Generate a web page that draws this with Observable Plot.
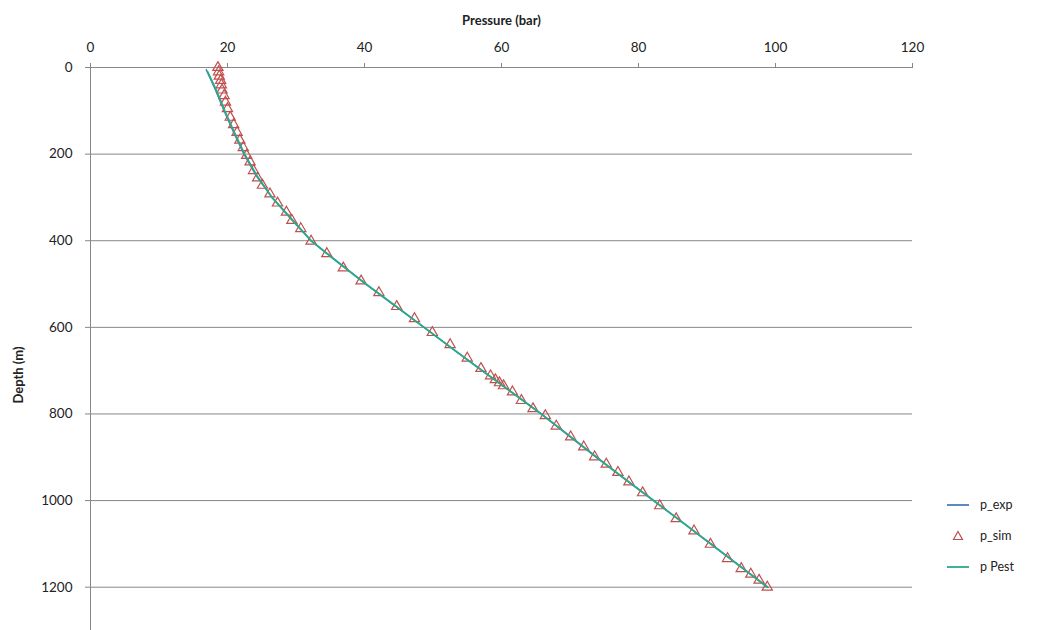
<!DOCTYPE html>
<html>
<head>
<meta charset="utf-8">
<script src="https://cdn.jsdelivr.net/npm/d3@7"></script>
<script src="https://cdn.jsdelivr.net/npm/@observablehq/plot@0.6"></script>
<style>
  html, body { margin: 0; padding: 0; background: #fff; }
  #wrap { position: relative; width: 1039px; height: 630px; font-family: Lato, "Open Sans", sans-serif; }
  #legend { position: absolute; left: 946px; top: 489px; font-size: 12.5px; color: #222; }
  .row { display: flex; align-items: center; height: 31px; }
  .row svg { margin-right: 10px; }
</style>
</head>
<body>
<div id="wrap"></div>
<script>
// Tick values
const xTicks = [0, 20, 40, 60, 80, 100, 120];
const yTicks = [0, 200, 400, 600, 800, 1000, 1200];

// p_sim (triangles)
const simDepth = [0,10,20,30,40,52,65,80,95,115,132,150,168,185,203,218,238,255,272,292,313,334,353,372,401,430,463,493,520,552,580,612,640,671,695,712,721,728,735,749,769,788,804,828,853,876,899,916,935,957,982,1012,1042,1070,1101,1134,1157,1170,1184,1200];
const simPressure = [18.6,18.7,18.8,19.0,19.1,19.2,19.5,19.7,20.0,20.4,20.9,21.4,21.8,22.3,22.8,23.3,23.8,24.4,25.1,26.2,27.3,28.6,29.4,30.7,32.2,34.5,36.9,39.5,42.1,44.7,47.3,49.9,52.5,55.0,57.0,58.4,59.1,59.7,60.3,61.6,62.9,64.6,66.4,68.0,70.1,72.0,73.6,75.3,77.0,78.6,80.6,83.1,85.5,88.1,90.5,93.0,95.0,96.4,97.6,98.8];

// p_exp (line)
const expDepth = [5,50,100,150,200,250,300,350,400,450,500,550,600,650,700,750,800,850,900,950,1000,1050,1100,1150,1200];
const expPressure = [16.9,18.2,19.5,20.9,22.4,24.2,26.5,29.4,32.2,36.2,40.2,44.4,48.7,52.9,57.2,61.5,65.8,69.8,73.8,78.0,82.2,86.4,90.6,94.7,98.9];

// p Pest (line)
const pestDepth = [10,50,100,150,200,250,300,350,400,450,500,550,600,650,700,750,800,850,900,950,1000,1050,1100,1150,1200];
const pestPressure = [17.1,18.3,19.6,21.0,22.5,24.3,26.5,29.3,32.2,36.1,40.2,44.5,48.7,52.9,57.2,61.5,65.8,69.9,73.9,78.0,82.2,86.4,90.5,94.7,98.8];

const sim = simDepth.map((d, i) => ({d, p: simPressure[i]}));
const exp = expDepth.map((d, i) => ({d, p: expPressure[i]}));
const pest = pestDepth.map((d, i) => ({d, p: pestPressure[i]}));

const gridColor = "#878787";
const expColor = "#4a7ebb";
const simColor = "#c0504d";
const pestColor = "#2aa98b";

const chart = Plot.plot({
  width: 1039,
  height: 630,
  marginLeft: 90,
  marginRight: 127,
  marginTop: 67,
  marginBottom: 0,
  style: { fontFamily: "Lato, 'Open Sans', sans-serif", fontSize: "13px", color: "#222", background: "#fff", overflow: "visible" },
  x: { domain: [0, 120] },
  y: { domain: [0, 1300], reverse: true },
  marks: [
    Plot.ruleY(yTicks, { x1: 0, x2: 120, stroke: gridColor, strokeWidth: 1 }),
    Plot.ruleX([0], { y1: 0, y2: 1300, stroke: gridColor, strokeWidth: 1 }),
    Plot.axisX(xTicks, { anchor: "top", tickSize: 5, tickPadding: 11, tickFormat: d => String(d), stroke: gridColor, fill: "#222", label: null, fontSize: 13.5 }),
    Plot.axisY(yTicks, { anchor: "left", tickSize: 5, tickPadding: 13, tickFormat: d => String(d), stroke: gridColor, fill: "#222", label: null, fontSize: 13.5 }),
    Plot.text(["Pressure (bar)"], { frameAnchor: "top", dy: -52, fontWeight: "bold", fontSize: 13, fill: "#222" }),
    Plot.text(["Depth (m)"], { frameAnchor: "left", textAnchor: "middle", dx: -72, dy: 26, rotate: -90, fontWeight: "bold", fontSize: 13, fill: "#222" }),
    Plot.line(exp, { x: "p", y: "d", stroke: expColor, strokeWidth: 1.5 }),
    Plot.dot(sim, { x: "p", y: "d", symbol: "triangle", r: 3.8, stroke: simColor, strokeWidth: 1.2, fill: "none" }),
    Plot.line(pest, { x: "p", y: "d", stroke: pestColor, strokeWidth: 1.8 })
  ]
});

const wrap = document.getElementById("wrap");
wrap.appendChild(chart);

const legendItems = [
  { name: "p_exp", kind: "line", color: expColor },
  { name: "p_sim", kind: "tri", color: simColor },
  { name: "p Pest", kind: "line", color: pestColor }
];
const legend = document.createElement("div");
legend.id = "legend";
for (const it of legendItems) {
  const row = document.createElement("div");
  row.className = "row";
  const sw = it.kind === "line"
    ? `<svg width="24" height="12"><line x1="1" y1="6" x2="23" y2="6" stroke="${it.color}" stroke-width="1.8"/></svg>`
    : `<svg width="24" height="12"><path d="M12,1.5L16.5,9.5L7.5,9.5Z" fill="none" stroke="${it.color}" stroke-width="1.2"/></svg>`;
  row.innerHTML = sw + `<span>${it.name}</span>`;
  legend.appendChild(row);
}
wrap.appendChild(legend);
</script>
</body>
</html>
